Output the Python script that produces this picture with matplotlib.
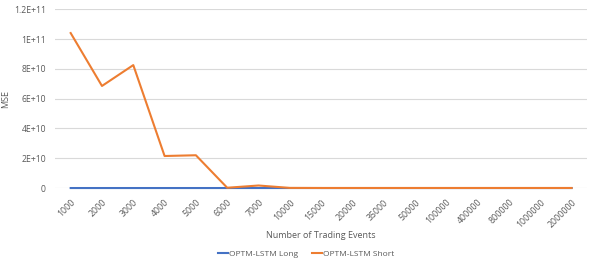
import matplotlib.pyplot as plt
from matplotlib.ticker import FuncFormatter

# categories on the x axis (treated as labels, evenly spaced)
events = ['1000', '2000', '3000', '4000', '5000', '6000', '7000', '10000',
          '15000', '20000', '35000', '50000', '100000', '400000', '800000',
          '1000000', '2000000']

# MSE values
mse_long = [1e7, 1e7, 1e7, 1e7, 1e7, 1e7, 1e7, 1e7,
            1e6, 1e6, 1e6, 1e6, 1e6, 1e6, 1e6, 1e6, 1e6]
mse_short = [1.04e11, 6.85e10, 8.25e10, 2.15e10, 2.2e10, 2e8, 1.7e9, 1e8,
             5e7, 5e7, 5e7, 5e7, 5e7, 5e7, 5e7, 5e7, 5e7]

plt.rcParams['font.family'] = ['Open Sans', 'DejaVu Sans']
txt = '#595959'

fig, ax = plt.subplots(figsize=(5.98, 2.63), dpi=100)
fig.subplots_adjust(left=0.092, right=0.982, top=0.965, bottom=0.285)

x = range(len(events))
ax.plot(x, mse_long, color='#4472C4', lw=1.5, label='OPTM-LSTM Long',
        clip_on=False)
ax.plot(x, mse_short, color='#ED7D31', lw=1.5, label='OPTM-LSTM Short',
        clip_on=False)

ax.set_xlim(-0.5, len(events) - 0.5)
ax.set_ylim(0, 1.2e11)
ax.set_yticks([0, 2e10, 4e10, 6e10, 8e10, 1e11, 1.2e11])

def sci(v, pos):
    if v == 0:
        return '0'
    exp = int(f'{v:e}'.split('e')[1])
    mant = v / 10 ** exp
    m = f'{mant:.1f}'.rstrip('0').rstrip('.')
    return f'{m}E+{exp}'

ax.yaxis.set_major_formatter(FuncFormatter(sci))
ax.set_xticks(list(x))
ax.set_xticklabels(events, rotation=45, ha='right', rotation_mode='anchor')

ax.grid(axis='y', color='#D9D9D9', lw=0.8)
ax.set_axisbelow(True)
for s in ['top', 'right', 'left', 'bottom']:
    ax.spines[s].set_visible(False)
ax.tick_params(length=0, colors=txt)
ax.tick_params(axis='y', pad=6.5, labelsize=6.2)
ax.tick_params(axis='x', pad=7, labelsize=6.3)

ax.set_ylabel('MSE', color=txt, fontsize=6.5)
ax.yaxis.set_label_coords(-0.085, 0.5)
ax.set_xlabel('Number of Trading Events', color=txt, fontsize=6.5, labelpad=1)

fig.legend(loc='lower center', ncol=2, frameon=False, fontsize=6,
           labelcolor=txt, bbox_to_anchor=(0.512, -0.01), handlelength=1.2,
           handletextpad=0.15, columnspacing=1.6)

fig.savefig('out.png', dpi=100)
